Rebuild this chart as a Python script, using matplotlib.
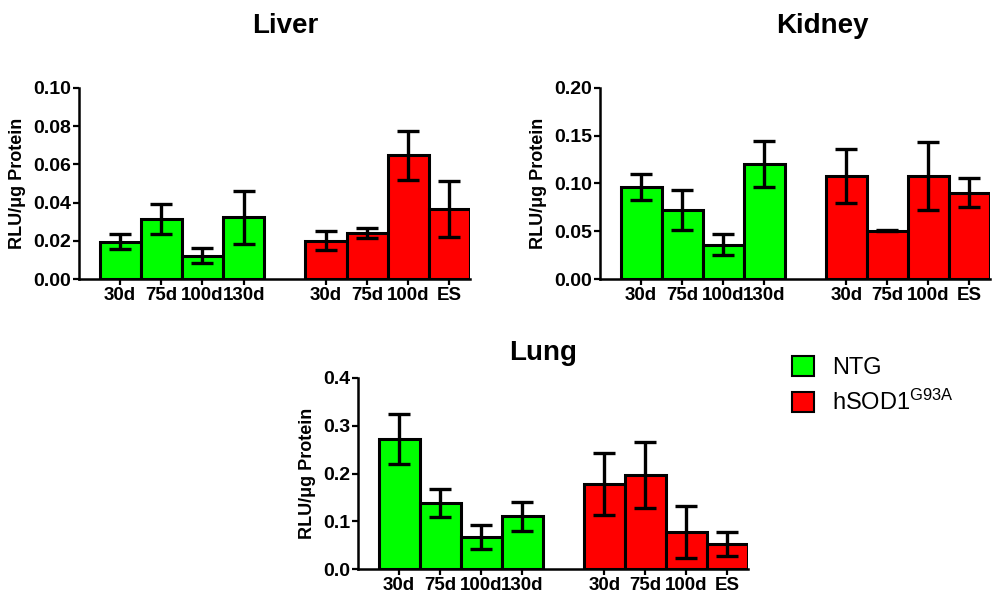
import matplotlib
matplotlib.use("Agg")
import matplotlib.pyplot as plt
from matplotlib.patches import Patch

plt.rcParams['font.family'] = ['Liberation Sans', 'DejaVu Sans']
plt.rcParams['mathtext.fontset'] = 'custom'
plt.rcParams['mathtext.rm'] = 'Liberation Sans'
plt.rcParams['mathtext.it'] = 'Liberation Sans:italic'
plt.rcParams['mathtext.bf'] = 'Liberation Sans:bold'

categories = ["30d", "75d", "100d", "130d", "30d", "75d", "100d", "ES"]
groups = ["NTG", "NTG", "NTG", "NTG", "hSOD1", "hSOD1", "hSOD1", "hSOD1"]

liver_mean = [0.0196, 0.0315, 0.0123, 0.0322, 0.0200, 0.0240, 0.0647, 0.0366]
liver_err = [0.0037, 0.0077, 0.0038, 0.0140, 0.0050, 0.0025, 0.0129, 0.0148]

kidney_mean = [0.0965, 0.0720, 0.0360, 0.1203, 0.1077, 0.0507, 0.1080, 0.0902]
kidney_err = [0.0138, 0.0207, 0.0107, 0.0240, 0.0283, 0.0005, 0.0353, 0.0152]

lung_mean = [0.272, 0.138, 0.067, 0.110, 0.178, 0.197, 0.078, 0.052]
lung_err = [0.052, 0.030, 0.025, 0.031, 0.064, 0.070, 0.054, 0.025]

liver_yticks = [0.00, 0.02, 0.04, 0.06, 0.08, 0.10]
kidney_yticks = [0.00, 0.05, 0.10, 0.15, 0.20]
lung_yticks = [0.0, 0.1, 0.2, 0.3, 0.4]

colors = {"NTG": "#00FF00", "hSOD1": "#FF0000"}
positions = [1, 2, 3, 4, 6, 7, 8, 9]

fig = plt.figure(figsize=(10.02, 5.93), dpi=100)
W, H = 1002, 593


def make_ax(left, right, top, bottom):
    return fig.add_axes([left / W, 1 - bottom / H, (right - left) / W, (bottom - top) / H])


def draw(ax, means, errs, yticks, fmt):
    cols = [colors[g] for g in groups]
    ax.bar(positions, means, width=1.0, color=cols, edgecolor='black', linewidth=2.2, zorder=2)
    ax.errorbar(positions, means, yerr=errs, fmt='none', ecolor='black',
                elinewidth=2.4, capsize=8, capthick=2.4, zorder=3)
    ax.set_xlim(0, 9.5)
    ax.set_ylim(yticks[0], yticks[-1])
    ax.set_yticks(yticks)
    ax.set_yticklabels([fmt.format(v) for v in yticks], fontweight='bold', fontsize=14)
    ax.set_xticks(positions)
    ax.set_xticklabels(categories, fontweight='bold', fontsize=13.5)
    for s in ['top', 'right']:
        ax.spines[s].set_visible(False)
    for s in ['left', 'bottom']:
        ax.spines[s].set_linewidth(1.8)
    ax.tick_params(axis='both', direction='out', width=1.6, length=4.5, pad=1.2)
    ax.set_ylabel("RLU/\u03bcg Protein", fontweight='bold', fontsize=13, labelpad=5)


ax1 = make_ax(79, 470, 88, 279)
draw(ax1, liver_mean, liver_err, liver_yticks, "{:.2f}")
ax2 = make_ax(600, 990, 88, 279)
draw(ax2, kidney_mean, kidney_err, kidney_yticks, "{:.2f}")
ax3 = make_ax(358, 748, 378, 569)
draw(ax3, lung_mean, lung_err, lung_yticks, "{:.1f}")

fig.text(285 / W, 1 - 33 / H, "Liver", ha='center', va='baseline', fontsize=20, fontweight='bold')
fig.text(822 / W, 1 - 33 / H, "Kidney", ha='center', va='baseline', fontsize=20, fontweight='bold')
fig.text(543 / W, 1 - 360 / H, "Lung", ha='center', va='baseline', fontsize=20, fontweight='bold')

handles = [Patch(facecolor=colors["NTG"], edgecolor='black', linewidth=1.5),
           Patch(facecolor=colors["hSOD1"], edgecolor='black', linewidth=1.5)]
labels = ["NTG", r"hSOD1$^{\mathrm{G93A}}$"]
fig.legend(handles, labels, loc='upper left', bbox_to_anchor=(792 / W, 1 - 356 / H),
           frameon=False, fontsize=17, handlelength=0.93, handleheight=0.93,
           handletextpad=0.75, labelspacing=0.45, borderaxespad=0, borderpad=0)

fig.savefig("out.png", dpi=100)
